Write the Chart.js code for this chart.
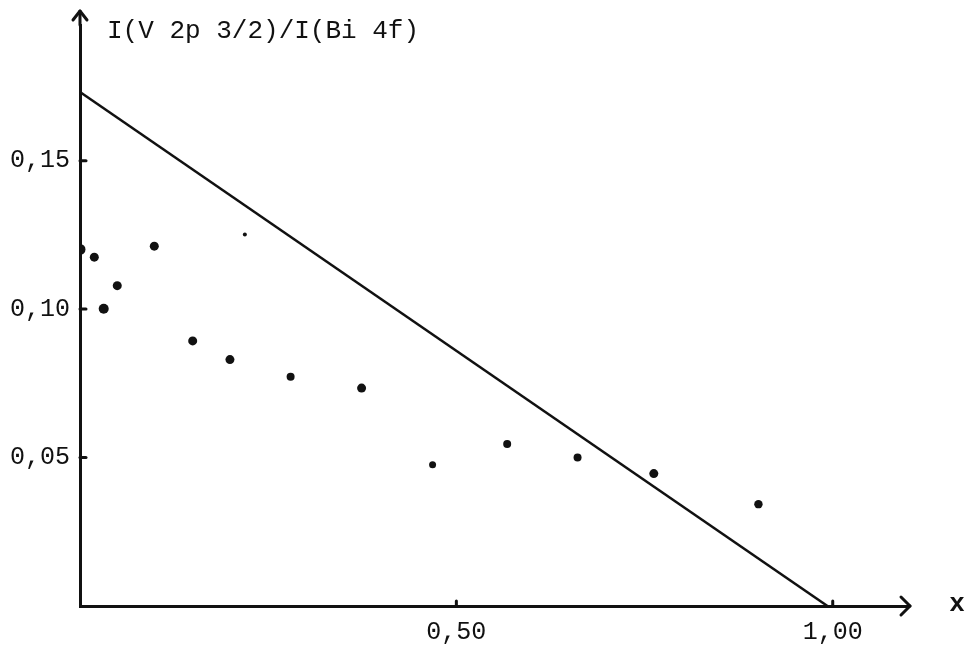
<!DOCTYPE html>
<html>
<head>
<meta charset="utf-8">
<script src="https://cdn.jsdelivr.net/npm/chart.js@4/dist/chart.umd.min.js"></script>
<style>
  html, body { margin: 0; padding: 0; background: #fff; }
  canvas { display: block; }
</style>
</head>
<body>
<canvas id="grafico" width="971" height="653"></canvas>
<script>
// ticks of both axes
const xTicks = [0.5, 1.0];
const yTicks = [0.05, 0.10, 0.15];

// straight reference line
const retaX = [0, 0.993];
const retaY = [0.1731, 0];

// measured ratios
const medidasX = [0, 0.019, 0.0315, 0.0495, 0.0987, 0.1497, 0.1992, 0.219, 0.2798, 0.3741,
                  0.4684, 0.5675, 0.661, 0.7623, 0.9013];
const medidasY = [0.1201, 0.1175, 0.1001, 0.1079, 0.1212, 0.0893, 0.0830, 0.1251, 0.0772, 0.0734,
                  0.0476, 0.0546, 0.0500, 0.0446, 0.0343];

const tinta = "#111";
const fonte = "Liberation Mono";

function virgula(v) {
  return v.toFixed(2).replace(".", ",");
}

// arrows, inner tick marks and the two axis names
const extras = {
  id: "extras",
  afterDraw(chart) {
    const ctx = chart.ctx;
    const sx = chart.scales.x;
    const sy = chart.scales.y;
    const x0 = sx.getPixelForValue(0);
    const y0 = sy.getPixelForValue(0);
    ctx.save();
    ctx.strokeStyle = tinta;
    ctx.fillStyle = tinta;
    ctx.lineWidth = 3;
    ctx.lineCap = "round";
    ctx.lineJoin = "round";

    // y axis up to the arrow
    ctx.beginPath();
    ctx.moveTo(x0, chart.chartArea.top);
    ctx.lineTo(x0, 11);
    ctx.stroke();
    ctx.beginPath();
    ctx.moveTo(x0 - 7, 20);
    ctx.lineTo(x0, 11);
    ctx.lineTo(x0 + 7, 20);
    ctx.stroke();

    // x axis arrow
    ctx.beginPath();
    ctx.moveTo(sx.right, y0);
    ctx.lineTo(910, y0);
    ctx.stroke();
    ctx.beginPath();
    ctx.moveTo(901, y0 - 9);
    ctx.lineTo(910, y0);
    ctx.lineTo(901, y0 + 9);
    ctx.stroke();

    // tick marks pointing inward
    yTicks.forEach(v => {
      const p = sy.getPixelForValue(v);
      ctx.beginPath();
      ctx.moveTo(x0, p);
      ctx.lineTo(x0 + 6, p);
      ctx.stroke();
    });
    xTicks.forEach(v => {
      const p = sx.getPixelForValue(v);
      ctx.beginPath();
      ctx.moveTo(p, y0);
      ctx.lineTo(p, y0 - 5);
      ctx.stroke();
    });

    ctx.font = "26px '" + fonte + "'";
    ctx.textBaseline = "middle";
    ctx.textAlign = "left";
    ctx.fillText("I(V 2p 3/2)/I(Bi 4f)", 107, 31);
    ctx.font = "bold 26px '" + fonte + "'";
    ctx.textAlign = "center";
    ctx.fillText("x", 957, y0 - 2);
    ctx.restore();
  }
};

new Chart(document.getElementById("grafico"), {
  type: "scatter",
  data: {
    datasets: [
      {
        data: retaX.map((x, i) => ({ x: x, y: retaY[i] })),
        showLine: true,
        borderColor: tinta,
        borderWidth: 2.5,
        pointRadius: 0
      },
      {
        data: medidasX.map((x, i) => ({ x: x, y: medidasY[i] })),
        showLine: false,
        backgroundColor: tinta,
        borderColor: tinta,
        borderWidth: 0,
        pointRadius: [5.5, 4.5, 5, 4.5, 4.5, 4.5, 4.5, 2, 4, 4.5, 3.5, 4, 4, 4.5, 4.2]
      }
    ]
  },
  options: {
    responsive: false,
    animation: false,
    layout: { padding: { left: 10, right: 63, top: 17, bottom: 0 } },
    plugins: {
      legend: { display: false },
      tooltip: { enabled: false }
    },
    scales: {
      x: {
        type: "linear",
        min: 0,
        max: 1.1,
        afterBuildTicks: s => { s.ticks = xTicks.map(v => ({ value: v })); },
        afterFit: s => { s.height = 47; },
        grid: { display: false, drawTicks: false },
        border: { color: tinta, width: 3 },
        ticks: {
          padding: 11,
          color: tinta,
          font: { family: fonte, size: 25 },
          callback: v => virgula(v)
        }
      },
      y: {
        type: "linear",
        min: 0,
        max: 0.1957,
        afterBuildTicks: s => { s.ticks = yTicks.map(v => ({ value: v })); },
        afterFit: s => { s.width = 70; },
        grid: { display: false, drawTicks: false },
        border: { color: tinta, width: 3 },
        ticks: {
          padding: 10,
          color: tinta,
          font: { family: fonte, size: 25 },
          callback: v => virgula(v)
        }
      }
    }
  },
  plugins: [extras]
});
</script>
</body>
</html>
